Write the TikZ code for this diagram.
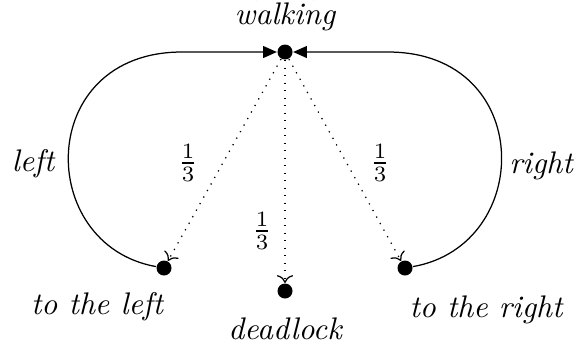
\documentclass[tikz,border=0pt]{standalone}
\usetikzlibrary{arrows.meta}
\begin{document}
\begin{tikzpicture}[x=0.32pt,y=-0.32pt,
  state/.style={circle,fill=black,inner sep=0pt,minimum size=4.8pt},
  lbl/.style={font=\itshape,inner sep=0pt},
  loop/.style={-{Triangle[length=4.4pt,width=3.8pt]}},
  prob/.style={dotted,->},
  frac/.style={inner sep=0pt}]
  \useasboundingbox (0,0) rectangle (578,348);

  % states
  \node[state] (w) at (285,52) {};
  \node[state] (l) at (164,268) {};
  \node[state] (d) at (285,291) {};
  \node[state] (r) at (405,268) {};

  % state names
  \node[lbl] (wn) at (285,17) {walking};
  \node[lbl] (ln) at (97,307) {to the left};
  \node[lbl] (dn) at (285,329) {deadlock};
  \node[lbl] (rn) at (486,310) {to the right};

  % loops back to walking
  \coordinate (lt) at (182,52);
  \coordinate (rt) at (388,52);
  \draw[loop] (l) .. controls (35,245) and (35,52) .. (lt) -- (w);
  \draw[loop] (r) .. controls (535,245) and (535,52) .. (rt) -- (w);
  \node[lbl] (lname) at (33,164) {left};
  \node[lbl] (rname) at (541,166) {right};

  % probabilistic branches
  \draw[prob] (w) -- (l);
  \draw[prob] (w) -- (d);
  \draw[prob] (w) -- (r);
  \draw[dotted] (w) ++(240.7:60) arc[start angle=240.7,end angle=299.3,radius=60];

  \node[frac] (pl) at (188,163) {$\frac{1}{3}$};
  \node[frac] (pr) at (380,163) {$\frac{1}{3}$};
  \node[frac] (pd) at (262,231) {$\frac{1}{3}$};
\end{tikzpicture}
\end{document}
